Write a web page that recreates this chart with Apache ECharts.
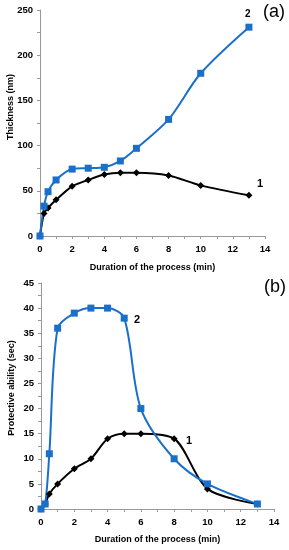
<!DOCTYPE html>
<html><head><meta charset="utf-8">
<script src="https://cdn.jsdelivr.net/npm/echarts@6/dist/echarts.min.js"></script>
<style>html,body{margin:0;padding:0;background:#fff}#c{width:289px;height:550px}</style>
</head><body><div id="c"></div>
<script>
const durations = [0, 0.25, 0.5, 1, 2, 3, 4, 5, 6, 8, 10, 13];
const thickness1 = [0, 25, 31, 40, 55, 62, 68, 70, 70, 67, 56, 45];
const thickness2 = [0, 33, 49, 62, 74, 75, 76, 83, 97, 129, 180, 231];
const protect1 = [0, 1, 3, 5, 8, 10, 14, 15, 15, 14, 4, 1];
const protect2 = [0, 1, 11, 36, 39, 40, 40, 38, 20, 10, 5, 1];
const xTitle = 'Duration of the process (min)';
const yTitleA = 'Thickness (nm)';
const yTitleB = 'Protective ability (sec)';

const pair = (xs, ys) => xs.map((x, i) => [x, ys[i]]);
const font = 'Liberation Sans, Arial, sans-serif';
const blue = '#1a6fc9';
const axisCommon = {
  axisLine: {show: true, lineStyle: {color: '#999', width: 1}},
  axisTick: {show: true, length: 3, lineStyle: {color: '#999'}},
  minorTick: {show: true, splitNumber: 2, length: 3, lineStyle: {color: '#999'}},
  splitLine: {show: false},
  axisLabel: {color: '#000', fontWeight: 'bold', fontSize: 9.5, fontFamily: font, margin: 7},
  nameTextStyle: {color: '#000', fontWeight: 'bold', fontSize: 9, fontFamily: font}
};
function xAxis(grid, gap) {
  return Object.assign({}, axisCommon, {
    type: 'value', gridIndex: grid, min: 0, max: 14, interval: 2,
    name: xTitle, nameLocation: 'middle', nameGap: gap, nameMoveOverlap: false,
    axisLabel: Object.assign({}, axisCommon.axisLabel, {margin: 8})
  });
}
const chart = echarts.init(document.getElementById('c'));
chart.setOption({
  animation: false,
  grid: [
    {left: 40, right: 24, top: 10, height: 226, outerBoundsMode: 'none', containLabel: false},
    {left: 41, right: 15, top: 283, height: 226, outerBoundsMode: 'none', containLabel: false}
  ],
  xAxis: [xAxis(0, 27), xAxis(1, 26)],
  yAxis: [
    Object.assign({}, axisCommon, {type: 'value', gridIndex: 0, min: 0, max: 250, interval: 50}),
    Object.assign({}, axisCommon, {type: 'value', gridIndex: 1, min: 0, max: 45, interval: 5})
  ],
  series: [
    {type: 'line', xAxisIndex: 0, yAxisIndex: 0, data: pair(durations, thickness1), smooth: 0.3,
      symbol: 'diamond', symbolSize: 7, lineStyle: {color: '#000', width: 2}, itemStyle: {color: '#000'}},
    {type: 'line', xAxisIndex: 0, yAxisIndex: 0, data: pair(durations, thickness2), smooth: 0.3,
      symbol: 'rect', symbolSize: 7, lineStyle: {color: blue, width: 2}, itemStyle: {color: blue}},
    {type: 'line', xAxisIndex: 1, yAxisIndex: 1, data: pair(durations, protect1), smooth: 0.3,
      symbol: 'diamond', symbolSize: 7, lineStyle: {color: '#000', width: 2}, itemStyle: {color: '#000'}},
    {type: 'line', xAxisIndex: 1, yAxisIndex: 1, data: pair(durations, protect2), smooth: 0.3,
      symbol: 'rect', symbolSize: 7, lineStyle: {color: blue, width: 2}, itemStyle: {color: blue}}
  ],
  graphic: [
    {type: 'text', x: 11, y: 107, rotation: Math.PI / 2,
      style: {text: yTitleA, font: 'bold 9px ' + font, fill: '#000', align: 'center', verticalAlign: 'middle'}},
    {type: 'text', x: 11.5, y: 388, rotation: Math.PI / 2,
      style: {text: yTitleB, font: 'bold 9px ' + font, fill: '#000', align: 'center', verticalAlign: 'middle'}},
    {type: 'text', left: 263, top: 3, style: {text: '(a)', font: '18px ' + font, fill: '#000'}},
    {type: 'text', left: 245, top: 9, style: {text: '2', font: 'bold 10px ' + font, fill: '#000'}},
    {type: 'text', left: 257, top: 178, style: {text: '1', font: 'bold 11px ' + font, fill: '#000'}},
    {type: 'text', left: 264, top: 278, style: {text: '(b)', font: '18px ' + font, fill: '#000'}},
    {type: 'text', left: 134, top: 314, style: {text: '2', font: 'bold 11px ' + font, fill: '#000'}},
    {type: 'text', left: 186, top: 435, style: {text: '1', font: 'bold 11px ' + font, fill: '#000'}}
  ]
});
</script></body></html>
